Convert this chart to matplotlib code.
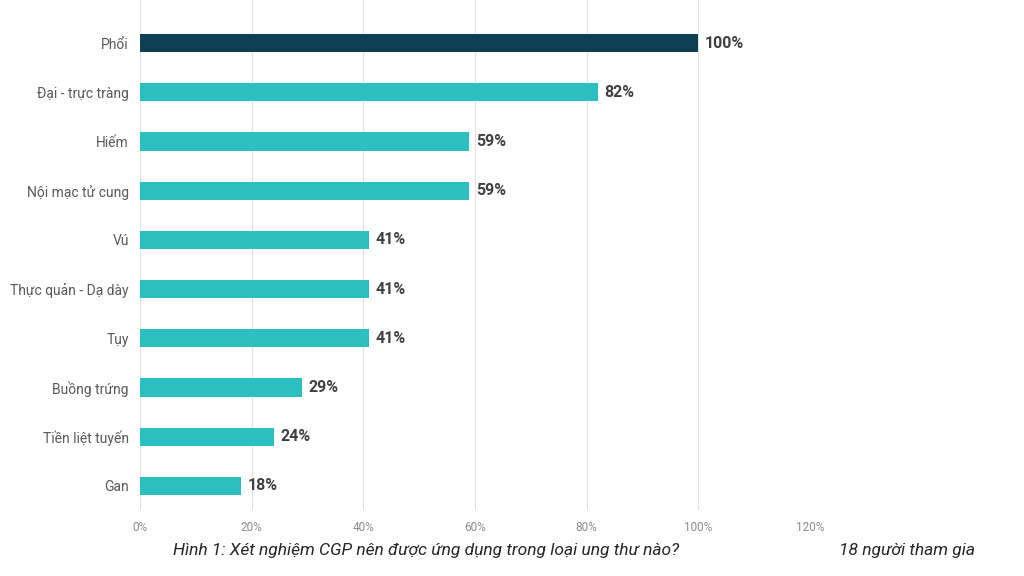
import matplotlib
matplotlib.use('Agg')
import matplotlib.pyplot as plt

plt.rcParams['font.family'] = ['Roboto', 'DejaVu Sans']

categories = ['Phổi', 'Đại - trực tràng', 'Hiếm', 'Nội mạc tử cung', 'Vú',
              'Thực quản - Dạ dày', 'Tụy', 'Buồng trứng', 'Tiền liệt tuyến', 'Gan']
values = [100, 82, 59, 59, 41, 41, 41, 29, 24, 18]
ticks = [0, 20, 40, 60, 80, 100, 120]

DARK = '#0F3F55'
TEAL = '#2BBFBF'

fig = plt.figure(figsize=(10.24, 5.76), dpi=100)
ax = fig.add_axes([140/1024, 1 - 510/576, 670/1024, 510/576])

# first bar highlighted
colors = [DARK] + [TEAL] * (len(values) - 1)
ypos = list(range(len(categories)))
ax.barh(ypos, values, height=0.37, color=colors, zorder=3)

for y, v in zip(ypos, values):
    ax.text(v + 1.2, y, f'{v}%', va='center', ha='left', fontsize=11.5,
            fontweight='bold', color='#404040')

ax.set_xlim(0, 120)
ax.set_ylim(9.49, -0.874)
ax.set_yticks(ypos)
ax.set_yticklabels(categories, fontsize=10, color='#595959')
ax.set_xticks(ticks)
ax.set_xticklabels([f'{t}%' for t in ticks], fontsize=8.5, color='#8C8C8C')
ax.tick_params(axis='both', length=0)
ax.tick_params(axis='y', pad=8)
ax.tick_params(axis='x', pad=8)
ax.grid(axis='x', color='#E3E3E3', linewidth=0.8, zorder=0)
for s in ax.spines.values():
    s.set_visible(False)

fig.text(426/1024, 1 - 550/576, 'Hình 1: Xét nghiệm CGP nên được ứng dụng trong loại ung thư nào?',
         ha='center', va='center', fontsize=12.5, style='italic', color='#262626')
fig.text(907/1024, 1 - 550/576, '18 người tham gia',
         ha='center', va='center', fontsize=12.5, style='italic', color='#262626')

fig.savefig('out.png', dpi=100)
